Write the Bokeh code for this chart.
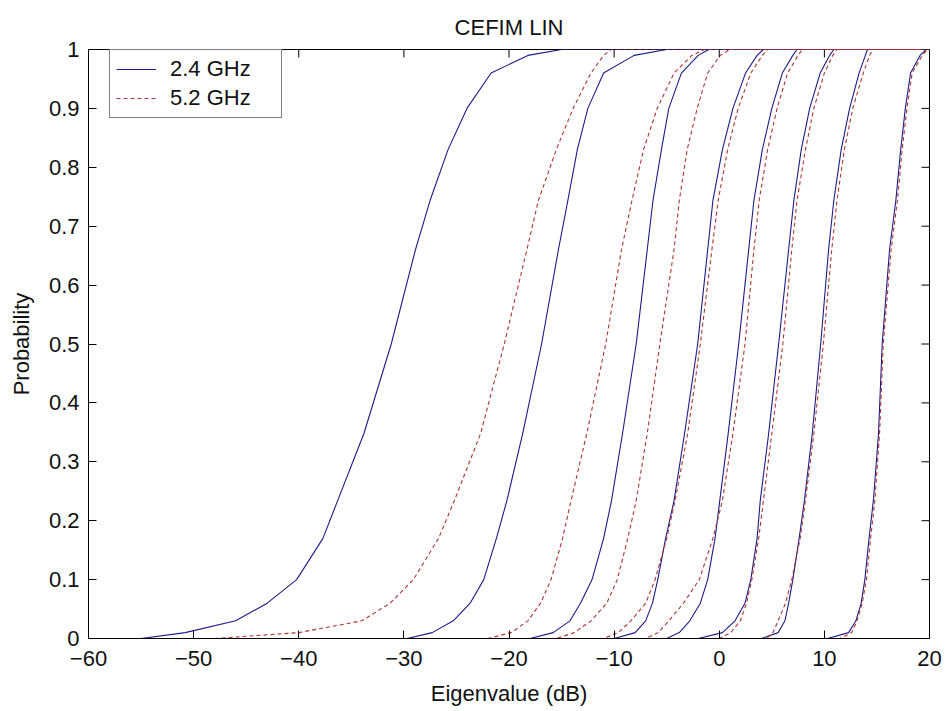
from bokeh.plotting import figure
from bokeh.models import Range1d, FixedTicker, Legend, LegendItem
from bokeh.embed import file_html
from bokeh.resources import INLINE

# ---------------- data ----------------
TITLE = "CEFIM LIN"
# probability levels at which the eigenvalue (dB) was read for each curve
P_LEVELS = [0, 0.01, 0.03, 0.06, 0.1, 0.17, 0.234, 0.348, 0.5, 0.66, 0.744, 0.83, 0.9, 0.96, 0.99, 1]

# 2.4 GHz (solid) eigenvalue curves, x in dB at each P level
ev24_1 = [-55, -50.8, -46.0, -43.0, -40.2, -37.7, -36.3, -33.8, -31.2, -28.9, -27.5, -25.8, -24.0, -21.7, -18.2, -15.0]
ev24_2 = [-29.7, -27.3, -25.3, -23.7, -22.4, -21.2, -20.2, -18.7, -16.9, -15.3, -14.4, -13.5, -12.5, -11.0, -8.1, -5.0]
ev24_3 = [-18.0, -15.8, -14.2, -13.2, -12.1, -11.0, -10.25, -9.2, -7.9, -6.85, -6.3, -5.5, -4.8, -3.6, -2.0, -1.0]
ev24_4 = [-10.0, -8.0, -7.0, -6.35, -5.85, -5.1, -4.3, -3.3, -2.05, -1.1, -0.6, 0.3, 1.3, 2.5, 3.6, 4.2]
ev24_5 = [-5.0, -3.8, -2.8, -1.8, -1.1, -0.4, 0.05, 0.85, 1.85, 2.8, 3.3, 4.1, 5.0, 6.0, 7.0, 7.4]
ev24_6 = [-2.0, 0.3, 1.5, 2.45, 3.0, 3.6, 3.9, 4.7, 5.65, 6.6, 7.1, 7.8, 8.6, 9.6, 10.5, 10.9]
ev24_7 = [4.0, 5.6, 6.25, 6.6, 7.0, 7.6, 8.1, 8.85, 9.65, 10.4, 10.9, 11.6, 12.4, 13.3, 13.9, 14.1]
ev24_8 = [10.3, 12.3, 13.0, 13.5, 13.85, 14.25, 14.66, 15.15, 15.5, 16.2, 16.8, 17.26, 17.7, 18.2, 19.1, 19.7]

# 5.2 GHz (dashed) eigenvalue curves
ev52_1 = [-48.0, -40.0, -34.0, -31.3, -29.1, -26.7, -25.2, -22.7, -20.45, -18.3, -17.2, -15.5, -13.9, -12.2, -11.0, -10.3]
ev52_2 = [-22.0, -19.8, -18.2, -17.0, -16.0, -14.9, -14.1, -12.6, -10.8, -9.3, -8.3, -7.2, -5.9, -4.3, -2.6, -1.4]
ev52_3 = [-15.5, -13.8, -12.2, -10.7, -9.7, -8.7, -7.9, -6.85, -5.65, -4.3, -3.8, -3.05, -2.1, -1.1, 0.1, 1.0]
ev52_4 = [-11.0, -9.6, -8.4, -7.0, -6.1, -5.0, -4.2, -3.0, -1.8, -0.7, -0.1, 0.8, 1.8, 3.0, 4.1, 4.6]
ev52_5 = [-7.0, -5.8, -4.8, -3.4, -1.9, -0.6, 0.3, 1.3, 2.45, 3.3, 3.8, 4.6, 5.5, 6.5, 7.5, 7.9]
ev52_6 = [0.0, 1.1, 2.0, 2.6, 3.1, 3.75, 4.2, 5.0, 6.05, 6.9, 7.4, 8.2, 9.0, 10.0, 10.8, 11.2]
ev52_7 = [4.5, 5.1, 5.6, 6.3, 6.9, 7.7, 8.2, 9.0, 9.9, 10.7, 11.2, 11.9, 12.7, 13.7, 14.3, 14.6]
ev52_8 = [11.5, 12.6, 13.1, 13.6, 14.0, 14.4, 14.8, 15.25, 15.6, 16.35, 16.95, 17.4, 17.85, 18.35, 19.3, 19.8]

X_START_24 = -55   # start of the 2.4 GHz evaluation grid
X_START_52 = -48   # start of the 5.2 GHz evaluation grid
X_END = 20         # end of both grids

X_TICKS = [-60, -50, -40, -30, -20, -10, 0, 10, 20]
Y_TICKS = [0, 0.1, 0.2, 0.3, 0.4, 0.5, 0.6, 0.7, 0.8, 0.9, 1]
Y_TICK_LABELS = ["0", "0.1", "0.2", "0.3", "0.4", "0.5", "0.6", "0.7", "0.8", "0.9", "1"]

curves24 = [ev24_1, ev24_2, ev24_3, ev24_4, ev24_5, ev24_6, ev24_7, ev24_8]
curves52 = [ev52_1, ev52_2, ev52_3, ev52_4, ev52_5, ev52_6, ev52_7, ev52_8]

# ---------------- styling ----------------
FONT = "Liberation Sans"
FS = "22px"
BLUE = "#1c1c86"
RED = "#b03434"

W, H = 946, 711
BL, BR, BT, BB = 88, 17, 49, 73
X0, X1, Y0, Y1 = -60, 20, 0, 1
TICK_PX = 8
tick_dx = TICK_PX * (X1 - X0) / (W - BL - BR)
tick_dy = TICK_PX * (Y1 - Y0) / (H - BT - BB)

p = figure(width=W, height=H, output_backend="svg", toolbar_location=None, title=TITLE,
           x_range=Range1d(X0, X1), y_range=Range1d(Y0, Y1),
           min_border_left=BL, min_border_right=BR, min_border_top=BT, min_border_bottom=BB,
           background_fill_color="white", border_fill_color="white")

p.xgrid.visible = False
p.ygrid.visible = False
p.outline_line_color = "black"
p.outline_line_width = 1

r24 = []
for xs in curves24:
    xx = [X_START_24] + list(xs) + [X_END]
    yy = [0] + P_LEVELS + [1]
    r24.append(p.line(xx, yy, line_color=BLUE, line_width=1.1))
r52 = []
for xs in curves52:
    xx = [X_START_52] + list(xs) + [X_END]
    yy = [0] + P_LEVELS + [1]
    r52.append(p.line(xx, yy, line_color=RED, line_width=1.1, line_dash="4 3"))

# inward ticks on the top and right edges of the box
p.segment(x0=X_TICKS, x1=X_TICKS, y0=[Y1] * len(X_TICKS), y1=[Y1 - tick_dy] * len(X_TICKS),
          line_color="black", line_width=1)
p.segment(x0=[X1] * len(Y_TICKS), x1=[X1 - tick_dx] * len(Y_TICKS), y0=Y_TICKS, y1=Y_TICKS,
          line_color="black", line_width=1)

for ax in p.xaxis:
    ax.ticker = FixedTicker(ticks=X_TICKS)
    ax.axis_label = "Eigenvalue (dB)"
    ax.major_label_standoff = 12
    ax.axis_label_standoff = 12
for ax in p.yaxis:
    ax.ticker = FixedTicker(ticks=Y_TICKS)
    ax.axis_label = "Probability"
    ax.major_label_overrides = {t: l for t, l in zip(Y_TICKS, Y_TICK_LABELS)}
    ax.major_label_standoff = 9
    ax.axis_label_standoff = 12

for ax in list(p.xaxis) + list(p.yaxis):
    ax.major_tick_in = TICK_PX
    ax.major_tick_out = 0
    ax.minor_tick_in = 0
    ax.minor_tick_out = 0
    ax.axis_line_color = "black"
    ax.major_tick_line_color = "black"
    ax.major_label_text_font = FONT
    ax.major_label_text_font_size = FS
    ax.major_label_text_color = "#111111"
    ax.axis_label_text_font = FONT
    ax.axis_label_text_font_size = FS
    ax.axis_label_text_font_style = "normal"
    ax.axis_label_text_color = "#111111"

p.title.align = "center"
p.title.text_font = FONT
p.title.text_font_size = FS
p.title.text_font_style = "normal"
p.title.text_color = "#111111"
p.title.standoff = 20

legend = Legend(items=[LegendItem(label="2.4 GHz", renderers=[r24[0]]),
                       LegendItem(label="5.2 GHz", renderers=[r52[0]])],
                location=(21, 520), margin=0, padding=6, spacing=3,
                glyph_width=40, glyph_height=24, label_height=24, label_width=105,
                label_standoff=14, border_line_color="black", border_line_width=1,
                background_fill_color="white", background_fill_alpha=1,
                label_text_font=FONT, label_text_font_size=FS, label_text_color="#111111")
p.add_layout(legend, "center")

open("out.html", "w").write(file_html(p, INLINE))
